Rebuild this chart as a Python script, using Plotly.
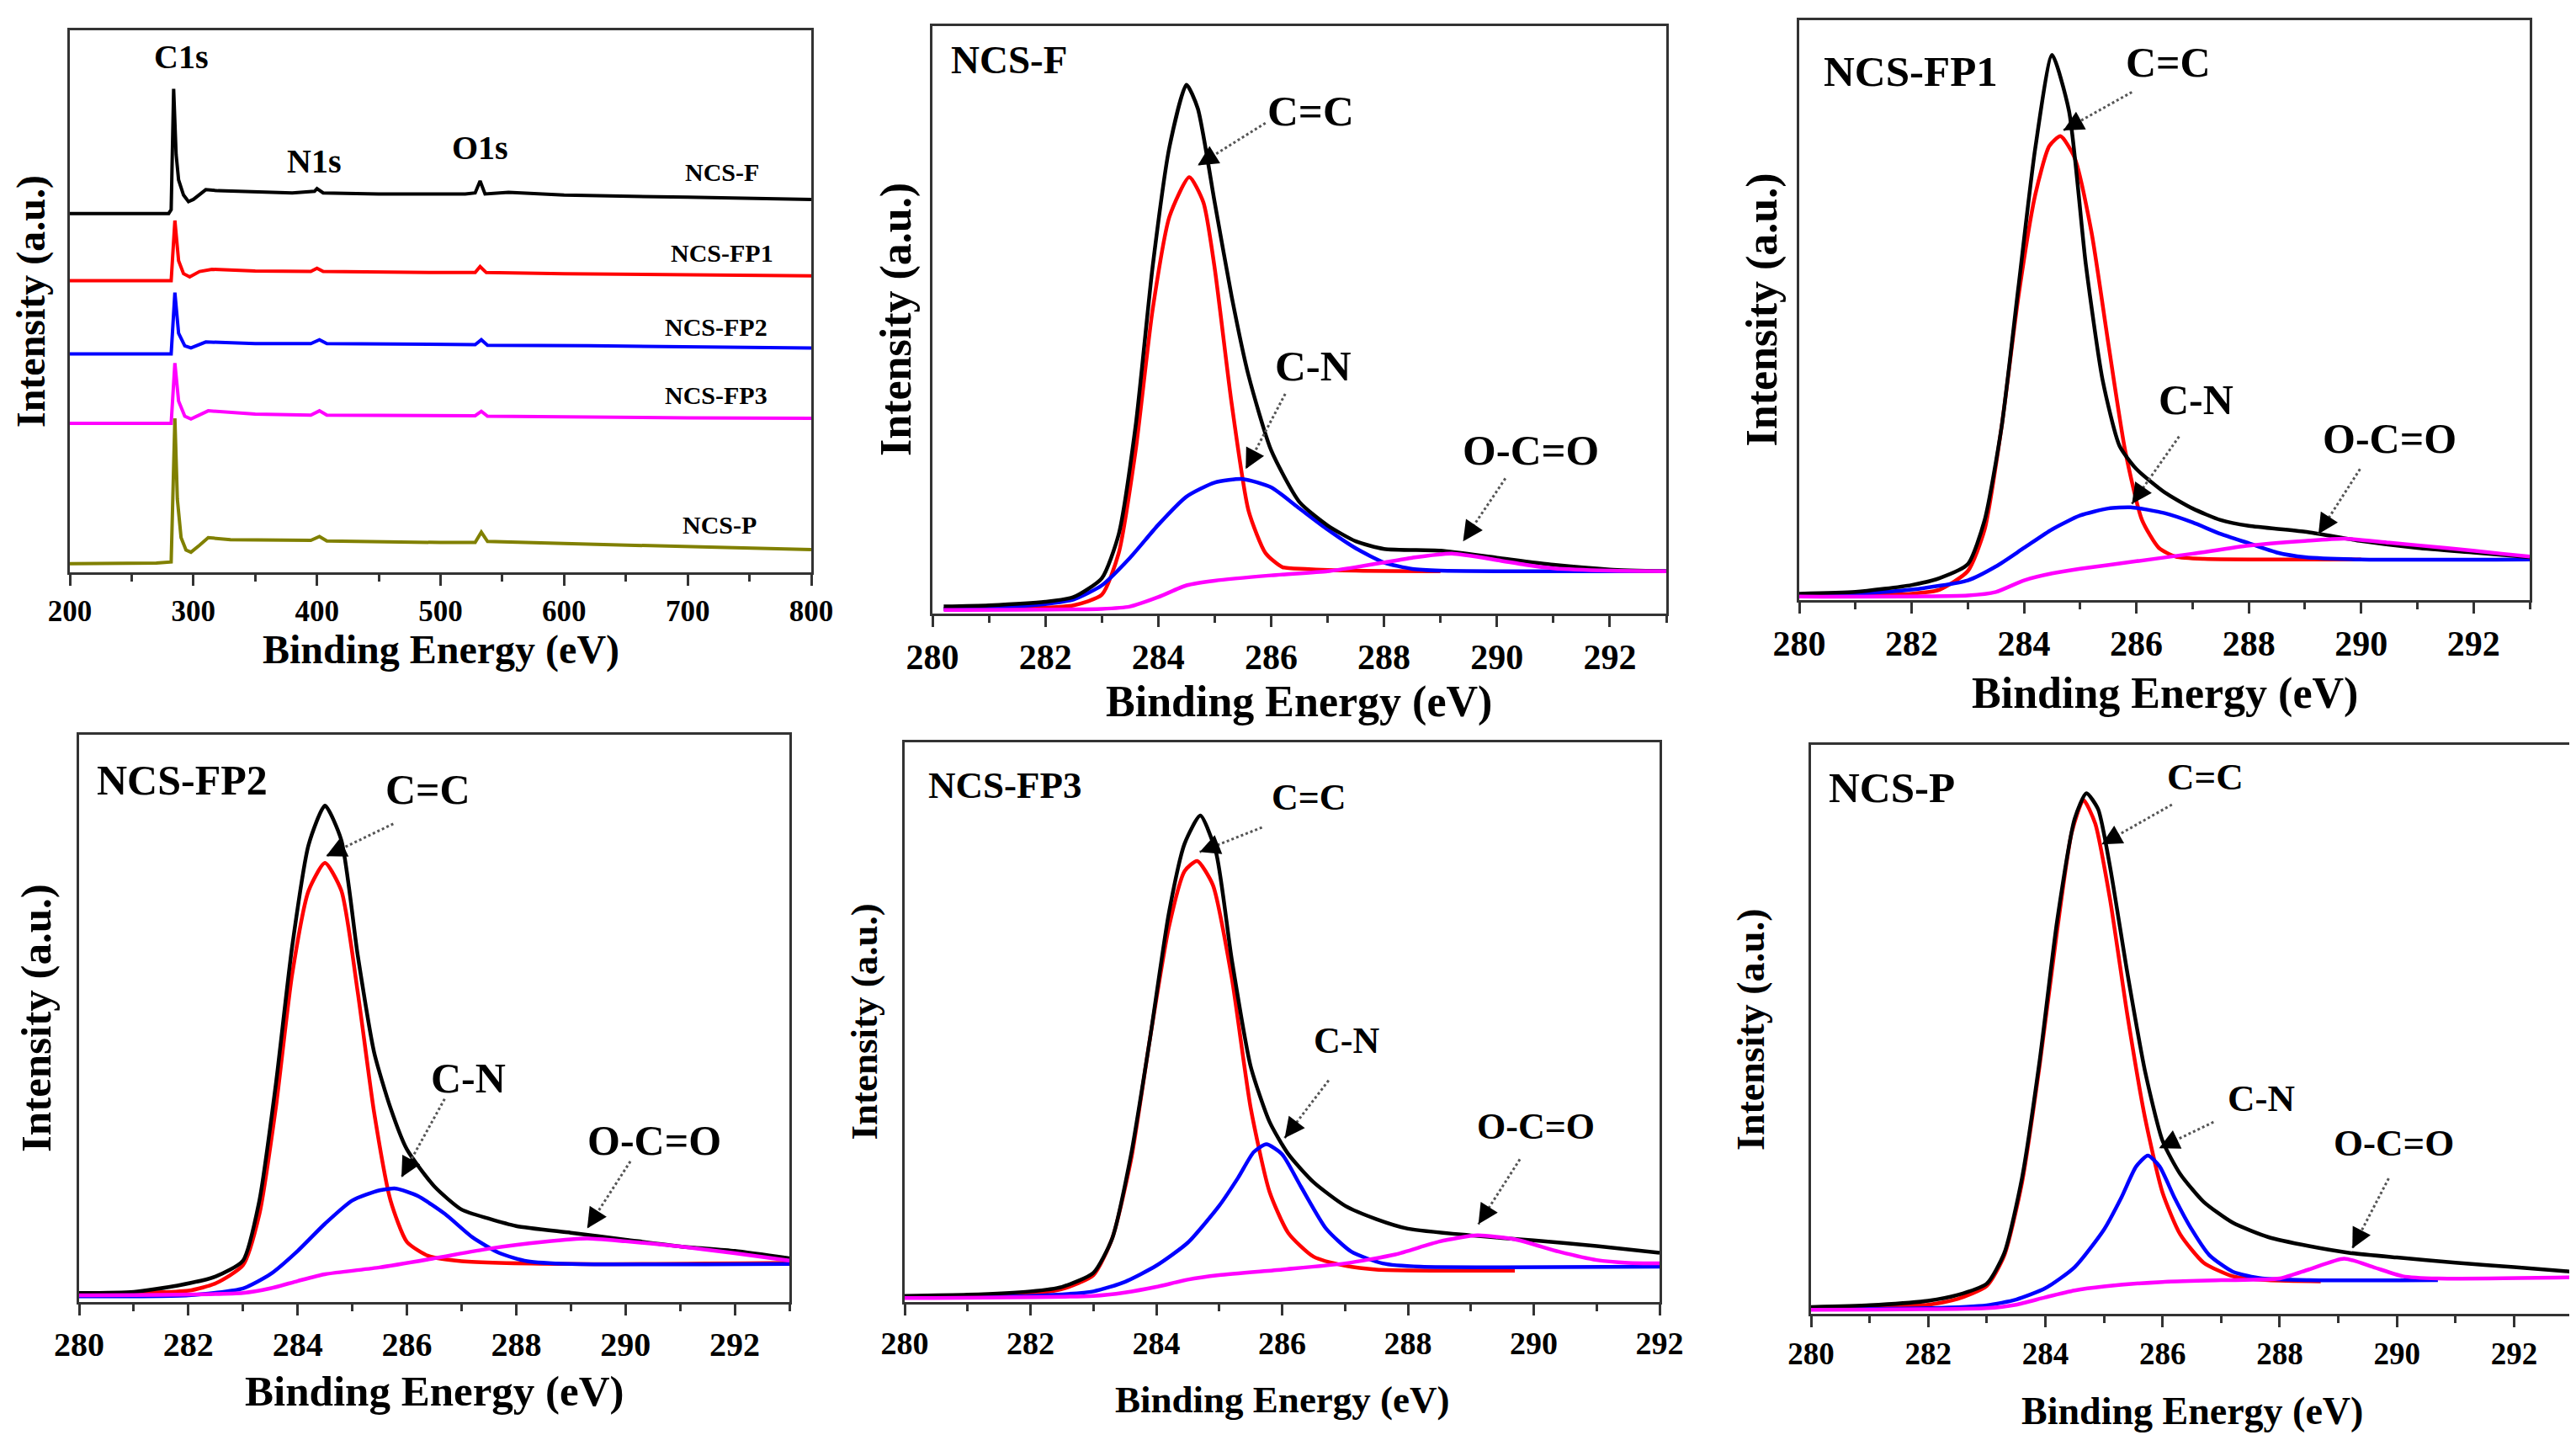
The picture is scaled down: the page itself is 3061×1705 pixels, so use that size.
import plotly.graph_objects as go

W, H = 3061, 1705
FONT = "Liberation Serif"

# ---------------- survey spectra (offset stacked, % of panel height) ----------------
SURVEY_LABELS = ["NCS-F", "NCS-FP1", "NCS-FP2", "NCS-FP3", "NCS-P"]
SURVEY_COLORS = ["#000000", "#ff0000", "#0000ff", "#ff00ff", "#808000"]

SV_F_X = [200, 280, 282, 284, 286, 288, 292, 296, 300, 310, 320, 350, 380, 398, 400, 405, 450, 520, 528, 532, 536, 555, 600, 700, 800]
SV_F_Y = [66.2, 66.2, 66.9, 89.2, 77.1, 72.4, 69.6, 68.4, 68.8, 70.6, 70.4, 70.2, 70.0, 70.3, 70.8, 70.0, 69.8, 69.8, 70.0, 72.2, 69.8, 70.1, 69.6, 69.2, 68.8]

SV_FP1_X = [200, 282, 285, 288, 292, 297, 305, 315, 350, 395, 400, 405, 500, 528, 532, 537, 600, 700, 800]
SV_FP1_Y = [53.8, 53.8, 64.9, 57.5, 55.1, 54.5, 55.5, 55.9, 55.6, 55.5, 56.1, 55.5, 55.3, 55.3, 56.4, 55.3, 55.1, 54.9, 54.7]

SV_FP2_X = [200, 282, 285, 288, 293, 298, 310, 350, 395, 402, 408, 500, 528, 533, 538, 620, 700, 800]
SV_FP2_Y = [40.3, 40.3, 51.6, 44.1, 41.8, 41.4, 42.5, 42.2, 42.2, 42.9, 42.2, 42.0, 42.0, 42.9, 41.9, 41.8, 41.6, 41.4]

SV_FP3_X = [200, 282, 285, 288, 293, 298, 312, 350, 395, 402, 408, 500, 528, 533, 538, 700, 800]
SV_FP3_Y = [27.5, 27.5, 38.6, 31.6, 28.8, 28.3, 29.8, 29.2, 29.0, 29.8, 29.0, 28.9, 28.9, 29.7, 28.8, 28.5, 28.4]

SV_P_X = [200, 270, 282, 285, 287, 290, 294, 298, 305, 312, 330, 395, 402, 408, 500, 528, 533, 538, 600, 700, 800]
SV_P_Y = [1.6, 1.7, 1.9, 28.4, 13.5, 6.4, 4.1, 3.7, 5.0, 6.4, 6.0, 5.9, 6.6, 5.8, 5.5, 5.5, 7.4, 5.7, 5.3, 4.7, 4.2]

# ---------------- C1s high-resolution spectra (% of panel height) ----------------
# NCS-F
F_ENV_X = [280.2, 281, 282, 282.5, 283, 283.3, 283.6, 283.9, 284.2, 284.5, 284.7, 285.0, 285.3, 285.6, 286.0, 286.5, 287, 287.5, 288, 289, 290, 291, 292, 293]
F_ENV_Y = [1.2, 1.4, 2.0, 2.8, 6.0, 13.5, 32, 59, 79.5, 90, 86, 70, 54, 40.5, 27.8, 19, 15, 12.3, 11, 10.7, 9.5, 8.3, 7.5, 7.2]
F_CC_X = [280.2, 282, 282.5, 283, 283.3, 283.6, 283.9, 284.2, 284.55, 284.8, 285.0, 285.3, 285.6, 285.9, 286.2, 286.6, 287.5, 289]
F_CC_Y = [0.8, 1.0, 1.4, 3.2, 10.3, 27.8, 51.7, 67.6, 74.3, 70, 58.8, 35.8, 17.5, 10.3, 7.9, 7.6, 7.3, 7.2]
F_CN_X = [280.2, 281, 282, 282.5, 283, 283.5, 284, 284.5, 285, 285.5, 286, 286.5, 287, 287.5, 288, 288.5, 289, 290, 293]
F_CN_Y = [0.8, 1.0, 1.6, 2.4, 4.8, 9.5, 15.1, 19.9, 22.3, 22.9, 21.5, 17.9, 14.3, 11.1, 8.7, 7.6, 7.3, 7.2, 7.2]
F_OCO_X = [280.2, 283, 283.5, 284, 284.5, 285, 286, 287, 287.5, 288, 288.5, 289.2, 290, 290.5, 291, 292, 293]
F_OCO_Y = [0.6, 0.8, 1.2, 2.8, 4.8, 5.6, 6.5, 7.2, 7.9, 8.7, 9.5, 10.2, 9.1, 8.3, 7.7, 7.3, 7.2]

# NCS-FP1
FP1_ENV_X = [280, 281, 282, 282.5, 283, 283.3, 283.6, 283.9, 284.2, 284.5, 284.8, 285.1, 285.4, 285.7, 286.0, 286.5, 287, 287.5, 288, 289, 290, 291, 292, 293]
FP1_ENV_Y = [1.1, 1.4, 2.6, 3.8, 6.2, 13.8, 29.8, 53.9, 77.9, 94, 84.4, 57.9, 37.9, 26.6, 22.6, 18.6, 15.8, 13.8, 12.8, 11.8, 10.2, 9.0, 8.2, 7.4]
FP1_CC_X = [280, 282, 282.5, 283, 283.3, 283.6, 283.9, 284.2, 284.45, 284.65, 284.9, 285.2, 285.5, 285.8, 286.1, 286.4, 286.7, 287.2, 290]
FP1_CC_Y = [0.8, 1.1, 1.8, 5.0, 12.2, 29.8, 52.3, 69.9, 78.3, 80, 76.3, 63.5, 44.3, 25.8, 13.8, 9.0, 7.5, 7.1, 7.0]
FP1_CN_X = [280, 281, 282, 283, 283.5, 284, 284.5, 285, 285.5, 285.9, 286.5, 287, 287.5, 288, 288.5, 289, 290, 293]
FP1_CN_Y = [0.8, 1.1, 1.8, 3.4, 5.8, 9.0, 12.2, 14.6, 15.8, 16.0, 15.0, 13.4, 11.4, 9.8, 8.2, 7.4, 7.0, 7.0]
FP1_OCO_X = [280, 283, 283.5, 284, 284.5, 285, 286, 287, 288, 289, 289.7, 290.5, 291.5, 292.5, 293]
FP1_OCO_Y = [0.6, 0.8, 1.4, 3.4, 4.6, 5.4, 6.7, 8.0, 9.4, 10.2, 10.6, 9.9, 9.0, 8.0, 7.5]

# NCS-FP2
FP2_ENV_X = [280, 281, 281.8, 282.5, 283, 283.3, 283.6, 283.9, 284.2, 284.5, 284.8, 285.1, 285.4, 285.7, 286, 286.5, 287, 287.5, 288, 289, 290, 291, 292, 293]
FP2_ENV_Y = [1.6, 1.8, 2.9, 4.5, 7.3, 17.9, 38.3, 62.7, 80.6, 87.5, 81.4, 61.1, 44, 34.2, 26.9, 20.4, 16.3, 14.7, 13.4, 12.2, 11.0, 9.8, 9.0, 7.7]
FP2_CC_X = [280, 282, 282.5, 283, 283.3, 283.6, 283.9, 284.2, 284.5, 284.8, 285.1, 285.4, 285.7, 286, 286.4, 287, 289, 293]
FP2_CC_Y = [1.5, 2.0, 3.3, 6.5, 15.5, 34.2, 57.8, 72.5, 77.4, 72.5, 54.6, 33.4, 17.9, 10.6, 8.1, 7.2, 6.7, 6.9]
FP2_CN_X = [280, 282, 283, 283.5, 284, 284.5, 285, 285.5, 285.8, 286.2, 286.7, 287.2, 287.7, 288.2, 289, 293]
FP2_CN_Y = [1.0, 1.2, 2.4, 4.9, 9.0, 13.8, 17.9, 19.7, 20.0, 18.7, 15.5, 11.4, 8.6, 7.2, 6.7, 6.7]
FP2_OCO_X = [280, 283, 283.5, 284, 284.5, 285.5, 286.5, 287.5, 288.5, 289.3, 290, 291, 292, 293]
FP2_OCO_Y = [1.2, 1.6, 2.4, 3.7, 4.9, 6.1, 7.7, 9.4, 10.6, 11.2, 10.7, 9.8, 8.6, 7.3]

# NCS-FP3
FP3_ENV_X = [280, 281, 282, 282.5, 283, 283.3, 283.6, 283.9, 284.2, 284.45, 284.7, 284.95, 285.2, 285.5, 285.8, 286.1, 286.5, 287, 287.5, 288, 289, 290, 291, 292]
FP3_ENV_Y = [1.1, 1.3, 1.9, 2.7, 5.2, 11.4, 26.4, 47.1, 69.5, 81.9, 86.9, 80.3, 61.2, 42.1, 32.2, 26.4, 21.4, 17.2, 14.8, 13.1, 11.9, 11.0, 10.0, 8.8]
FP3_CC_X = [280, 282, 282.5, 283, 283.3, 283.6, 283.9, 284.2, 284.45, 284.65, 284.9, 285.2, 285.5, 285.8, 286.1, 286.5, 287, 287.5, 289.7]
FP3_CC_Y = [0.9, 1.5, 2.3, 4.8, 11.4, 25.5, 47.1, 67, 77, 78.8, 74.5, 57.9, 34.7, 19.7, 12.3, 8.1, 6.5, 5.8, 5.6]
FP3_CN_X = [280, 282, 283, 283.5, 284, 284.5, 285, 285.3, 285.55, 285.75, 286, 286.3, 286.7, 287.1, 287.6, 288.2, 289.5, 292]
FP3_CN_Y = [0.8, 1.1, 1.9, 3.6, 6.5, 10.6, 17.2, 22.2, 26.8, 28.2, 26.4, 20.6, 13.1, 9.0, 6.9, 6.3, 6.2, 6.3]
FP3_OCO_X = [280, 283, 283.5, 284, 284.5, 285, 286, 287, 287.8, 288.5, 289.1, 289.7, 290.4, 291, 291.5, 292]
FP3_OCO_Y = [0.7, 1.1, 1.7, 2.7, 4.0, 4.8, 5.8, 6.9, 8.5, 10.8, 11.9, 11.2, 9.0, 7.5, 7.0, 6.9]

# NCS-P
P_ENV_X = [280, 281, 282, 282.5, 283, 283.3, 283.6, 283.9, 284.2, 284.5, 284.7, 284.9, 285.1, 285.4, 285.7, 286, 286.3, 286.7, 287.2, 287.8, 288.5, 289.2, 290, 291, 292, 293]
P_ENV_Y = [1.2, 1.5, 2.3, 3.3, 5.3, 10.7, 23.8, 44.3, 69, 87, 91.5, 88.7, 78.8, 59.9, 42.7, 30.4, 24.6, 19.7, 16, 13.5, 11.9, 10.7, 9.9, 9.0, 8.2, 7.4]
P_CC_X = [280, 282, 282.5, 283, 283.3, 283.6, 283.9, 284.2, 284.45, 284.65, 284.85, 285.1, 285.4, 285.7, 286, 286.3, 286.7, 287.2, 287.8, 288.7]
P_CC_Y = [1.0, 1.6, 2.6, 4.9, 10.3, 23, 43.5, 67.3, 84.6, 90.3, 86.2, 73.1, 52.5, 34.5, 21.3, 14, 9.0, 6.6, 5.9, 5.7]
P_CN_X = [280, 282, 283, 283.5, 284, 284.5, 285, 285.3, 285.55, 285.75, 285.95, 286.2, 286.5, 286.8, 287.2, 287.7, 288.5, 290.7]
P_CN_Y = [0.8, 1.0, 1.5, 2.5, 4.5, 8.2, 14.8, 20.5, 25.9, 27.8, 25.9, 20.5, 14.8, 10.3, 7.4, 6.2, 5.9, 5.9]
P_OCO_X = [280, 283, 283.5, 284, 284.5, 285, 286, 287, 288, 288.5, 289.1, 289.6, 290.1, 290.7, 293]
P_OCO_Y = [0.7, 1.0, 1.6, 2.9, 4.1, 4.8, 5.6, 5.9, 6.2, 7.8, 9.7, 8.2, 6.6, 6.2, 6.4]

COMP_COLORS = ["#000000", "#ff0000", "#0000ff", "#ff00ff"]

# panel boxes in pixels: (left, top, right, bottom), title centres (x-title y, y-title x)
PANELS = [
    dict(box=(75, 28, 956, 672), xr=[200, 800], dt=100, tick=35, title=48, xt=764, yt=29, label=None),
    dict(box=(1100, 23, 1972, 721), xr=[280, 293], dt=2, tick=42, title=52, xt=826, yt=1057, label="NCS-F", lab=47, pk=51),
    dict(box=(2130, 16, 2998, 705), xr=[280, 293], dt=2, tick=42, title=52, xt=816, yt=2085, label="NCS-FP1", lab=51, pk=50),
    dict(box=(86, 865, 930, 1539), xr=[280, 293], dt=2, tick=40, title=51, xt=1645, yt=35, label="NCS-FP2", lab=50, pk=50),
    dict(box=(1067, 874, 1964, 1539), xr=[280, 292], dt=2, tick=38, title=45, xt=1655, yt=1018, label="NCS-FP3", lab=45, pk=44),
    dict(box=(2144, 877, 3049, 1553), xr=[280, 293], dt=2, tick=37, title=46, xt=1668, yt=2072, label="NCS-P", lab=51, pk=45),
]

XPS = [
    [(F_ENV_X, F_ENV_Y), (F_CC_X, F_CC_Y), (F_CN_X, F_CN_Y), (F_OCO_X, F_OCO_Y)],
    [(FP1_ENV_X, FP1_ENV_Y), (FP1_CC_X, FP1_CC_Y), (FP1_CN_X, FP1_CN_Y), (FP1_OCO_X, FP1_OCO_Y)],
    [(FP2_ENV_X, FP2_ENV_Y), (FP2_CC_X, FP2_CC_Y), (FP2_CN_X, FP2_CN_Y), (FP2_OCO_X, FP2_OCO_Y)],
    [(FP3_ENV_X, FP3_ENV_Y), (FP3_CC_X, FP3_CC_Y), (FP3_CN_X, FP3_CN_Y), (FP3_OCO_X, FP3_OCO_Y)],
    [(P_ENV_X, P_ENV_Y), (P_CC_X, P_CC_Y), (P_CN_X, P_CN_Y), (P_OCO_X, P_OCO_Y)],
]

# peak labels: (text, text x, text y, line start x, y, arrow head x, y)
PEAKS = [
    [("C=C", 286.7, 85.5, 285.9, 83.5, 284.7, 76.3),
     ("C-N", 286.75, 42.1, 286.25, 37.4, 285.55, 24.6),
     ("O-C=O", 290.6, 27.8, 290.15, 23.0, 289.4, 12.3)],
    [("C=C", 286.56, 92.8, 285.92, 87.6, 284.7, 81.0),
     ("C-N", 287.06, 34.6, 286.76, 28.2, 285.92, 16.6),
     ("O-C=O", 290.5, 27.8, 289.98, 22.6, 289.24, 11.4)],
    [("C=C", 286.39, 90.4, 285.75, 84.3, 284.52, 78.6),
     ("C-N", 287.13, 39.5, 286.69, 35.8, 285.9, 22.0),
     ("O-C=O", 290.53, 28.5, 290.09, 24.8, 289.3, 13.0)],
    [("C=C", 286.43, 90.2, 285.68, 84.8, 284.69, 80.4),
     ("C-N", 287.03, 46.7, 286.74, 39.6, 286.04, 29.3),
     ("O-C=O", 290.04, 31.3, 289.78, 25.5, 289.12, 13.9)],
    [("C=C", 286.73, 94.4, 286.16, 89.5, 284.96, 82.5),
     ("C-N", 287.68, 37.8, 286.87, 33.7, 285.94, 29.1),
     ("O-C=O", 289.95, 30.0, 289.86, 23.8, 289.24, 11.5)],
]

LABEL_POS = [(280.3, 94.2), (280.4, 91.2), (280.3, 92.0), (280.35, 92.3), (280.28, 92.4)]


def px(x):
    return x / W


def py(y):
    return 1 - y / H


fig = go.Figure()
layout = {}
annotations = []


def bold(size, color="black"):
    return dict(family=FONT, size=size, color=color, weight="bold")


for i, p in enumerate(PANELS):
    n = i + 1
    sfx = "" if n == 1 else str(n)
    l, t, r, b = p["box"]
    layout["xaxis" + sfx] = dict(
        domain=[px(l), px(r)], anchor="y" + sfx, range=p["xr"], dtick=p["dt"],
        tick0=p["xr"][0], ticks="outside", ticklen=13, tickwidth=3, tickcolor="#333",
        minor=dict(ticks="outside", dtick=p["dt"] / 2, ticklen=8, tickwidth=3, tickcolor="#333"),
        showline=True, linewidth=3, linecolor="#333", mirror=True, showgrid=False,
        zeroline=False, tickfont=bold(p["tick"]), fixedrange=True, automargin=False,
    )
    layout["yaxis" + sfx] = dict(
        domain=[py(b), py(t)], anchor="x" + sfx, range=[0, 100], showticklabels=False,
        ticks="", showline=True, linewidth=3, linecolor="#333", mirror=True,
        showgrid=False, zeroline=False, fixedrange=True, automargin=False,
    )
    annotations.append(dict(
        text="Binding Energy (eV)", xref="paper", yref="paper", x=px((l + r) / 2),
        y=py(p["xt"]), xanchor="center", yanchor="middle",
        showarrow=False, font=bold(p["title"]),
    ))
    annotations.append(dict(
        text="Intensity (a.u.)", xref="paper", yref="paper", x=px(p["yt"]),
        y=py((t + b) / 2), xanchor="center", yanchor="middle", textangle=-90,
        showarrow=False, font=bold(p["title"]),
    ))

# survey panel
for name, color, xs, ys in zip(SURVEY_LABELS, SURVEY_COLORS,
                               [SV_F_X, SV_FP1_X, SV_FP2_X, SV_FP3_X, SV_P_X],
                               [SV_F_Y, SV_FP1_Y, SV_FP2_Y, SV_FP3_Y, SV_P_Y]):
    fig.add_trace(go.Scatter(x=xs, y=ys, mode="lines", line=dict(color=color, width=4),
                             xaxis="x", yaxis="y", showlegend=False, name=name))

for txt, x, y in [("NCS-F", 728, 73.9), ("NCS-FP1", 728, 59.0), ("NCS-FP2", 723, 45.3),
                  ("NCS-FP3", 723, 32.7), ("NCS-P", 726, 8.8)]:
    annotations.append(dict(text=txt, x=x, y=y, xref="x", yref="y", showarrow=False,
                            font=bold(30)))
for txt, x, y in [("C1s", 290, 95.1), ("N1s", 397.8, 75.9), ("O1s", 532, 78.3)]:
    annotations.append(dict(text=txt, x=x, y=y, xref="x", yref="y", showarrow=False,
                            font=bold(40)))

# C1s panels
for k, comps in enumerate(XPS):
    n = k + 2
    xa, ya = "x%d" % n, "y%d" % n
    p = PANELS[k + 1]
    order = [1, 2, 0, 3]
    for j in order:
        xs, ys = comps[j]
        fig.add_trace(go.Scatter(x=xs, y=ys, mode="lines",
                                 line=dict(color=COMP_COLORS[j], width=4.5, shape="spline", smoothing=0.6),
                                 xaxis=xa, yaxis=ya, showlegend=False))
    lx, ly = LABEL_POS[k]
    annotations.append(dict(text=p["label"], x=lx, y=ly, xref=xa, yref=ya, xanchor="left",
                            showarrow=False, font=bold(p["lab"])))
    for txt, tx, ty, sx, sy, hx, hy in PEAKS[k]:
        annotations.append(dict(text=txt, x=tx, y=ty, xref=xa, yref=ya, showarrow=False,
                                font=bold(p["pk"])))
        fig.add_trace(go.Scatter(x=[sx, hx], y=[sy, hy], mode="lines",
                                 line=dict(color="#555", width=3, dash="dot"),
                                 xaxis=xa, yaxis=ya, showlegend=False, hoverinfo="skip"))
        annotations.append(dict(text="", x=hx, y=hy, ax=hx + 0.25 * (sx - hx), ay=hy + 0.25 * (sy - hy),
                                xref=xa, yref=ya, axref=xa, ayref=ya, showarrow=True,
                                arrowhead=2, arrowsize=1.6, arrowwidth=3, arrowcolor="black"))

layout["annotations"] = annotations
fig.update_layout(**layout)
fig.update_layout(width=W, height=H, margin=dict(l=0, r=0, t=0, b=0, autoexpand=False),
                  paper_bgcolor="white", plot_bgcolor="white", showlegend=False,
                  font=dict(family=FONT, color="black"))

fig.write_html("out.html")
